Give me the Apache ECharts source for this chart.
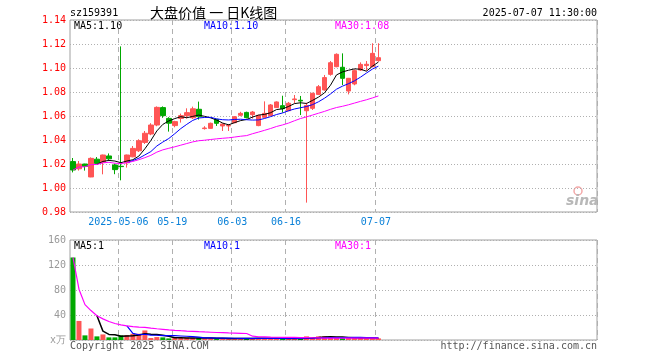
<!DOCTYPE html>
<html lang="zh-CN">
<head>
    <meta charset="UTF-8">
    <title>大盘价值 日K线图</title>
    <style>
        html, body { margin: 0; padding: 0; background: #fff; }
        #chart { width: 660px; height: 360px; }
    </style>
</head>
<body>
    <div id="chart"></div>
    <script src="https://cdn.jsdelivr.net/npm/echarts@6.0.0/dist/echarts.min.js"></script>
    <script>
        // 交易日
        const dates = [
            '04-21', '04-22', '04-23', '04-24', '04-25', '04-28', '04-29', '04-30',
            '05-06', '05-07', '05-08', '05-09', '05-12', '05-13', '05-14', '05-15', '05-16',
            '05-19', '05-20', '05-21', '05-22', '05-23', '05-26', '05-27', '05-28', '05-29', '05-30',
            '06-03', '06-04', '06-05', '06-06', '06-09', '06-10', '06-11', '06-12', '06-13',
            '06-16', '06-17', '06-18', '06-19', '06-20', '06-23', '06-24', '06-25', '06-26', '06-27',
            '06-30', '07-01', '07-02', '07-03', '07-04', '07-07'
        ];
        const openPrices = [
            1.022, 1.016, 1.020, 1.0092, 1.024, 1.0215, 1.0267, 1.0192,
            1.0181, 1.021, 1.026, 1.031, 1.038, 1.045, 1.0525, 1.067, 1.058,
            1.052, 1.058, 1.0603, 1.0585, 1.0656, 1.0495, 1.0497, 1.0572, 1.0517, 1.0517,
            1.0544, 1.0606, 1.063, 1.0611, 1.052, 1.0589, 1.0603, 1.067, 1.0686,
            1.0644, 1.0736, 1.0731, 1.0644, 1.0664, 1.078, 1.0817, 1.0947, 1.1011, 1.1006,
            1.0808, 1.0867, 1.0983, 1.102, 1.1011, 1.1061
        ];
        const closePrices = [
            1.015, 1.020, 1.018, 1.0247, 1.0205, 1.0275, 1.0243, 1.0153,
            1.0178, 1.0275, 1.033, 1.0394, 1.0456, 1.0525, 1.0672, 1.0603, 1.054,
            1.0553, 1.0603, 1.0628, 1.066, 1.0594, 1.0500, 1.0539, 1.0539, 1.0533, 1.0521,
            1.0594, 1.0622, 1.0586, 1.0633, 1.0605, 1.0622, 1.0692, 1.0717, 1.0661,
            1.0706, 1.0742, 1.0725, 1.0688, 1.0789, 1.0844, 1.092, 1.1044, 1.1114, 1.0914,
            1.0914, 1.0978, 1.103, 1.1031, 1.1122, 1.1086
        ];
        const lowPrices = [
            1.013, 1.0145, 1.0145, 1.009, 1.0197, 1.0114, 1.023, 1.0115,
            1.0064, 1.017, 1.0256, 1.030, 1.0367, 1.044, 1.0515, 1.0585, 1.047,
            1.0506, 1.0545, 1.058, 1.0575, 1.057, 1.0487, 1.0495, 1.0517, 1.0475, 1.0475,
            1.054, 1.0598, 1.058, 1.0578, 1.0515, 1.0583, 1.060, 1.0667, 1.0628,
            1.064, 1.0706, 1.0608, 0.9878, 1.065, 1.0775, 1.0811, 1.0936, 1.1006, 1.0858,
            1.078, 1.0856, 1.0975, 1.0978, 1.1006, 1.1053
        ];
        const highPrices = [
            1.025, 1.0225, 1.0202, 1.0255, 1.0258, 1.0278, 1.0288, 1.0203,
            1.118, 1.0278, 1.035, 1.0406, 1.0475, 1.054, 1.068, 1.068, 1.059,
            1.056, 1.062, 1.0664, 1.0678, 1.072, 1.0515, 1.0545, 1.0575, 1.0536, 1.0533,
            1.0600, 1.0635, 1.0636, 1.0642, 1.061, 1.0722, 1.070, 1.0722, 1.0769,
            1.0717, 1.0775, 1.0767, 1.0711, 1.0794, 1.0858, 1.0942, 1.1058, 1.1122, 1.1122,
            1.0917, 1.0989, 1.1047, 1.1058, 1.1206, 1.1206
        ];
        // 成交量(万)
        const volumes = [
            132, 30.5, 7.4, 18.4, 5.8, 8.9, 4.2, 4.2,
            7.4, 7.9, 10, 10, 15.3, 3.2, 4.7, 4.2, 2.6,
            3.2, 3.2, 3.7, 3.2, 3.2, 2.6, 2.6, 2.1, 2.6, 2.1,
            2.6, 2.6, 2.1, 2.6, 3.2, 2.6, 2.6, 2.6, 2.1,
            2.6, 2.1, 2.1, 5.8, 3.7, 5.8, 5.8, 4.7, 3.7, 3.2,
            3.2, 3.2, 3.2, 2.6, 3.2, 2.6
        ];
        const tickIndex = [8, 17, 27, 36, 51];
        const tickLabels = ['2025-05-06', '05-19', '06-03', '06-16', '07-07'];
        const priceTicks = [0.98, 1.14, 0.02];
        const volTicks = [0, 160, 40];

        const RED = '#ff5555';
        const GREEN = '#00a800';
        const MONO = 'DejaVu Sans Mono';
        const slots = 88;
        const cats = dates.concat(new Array(slots - dates.length).fill(''));

        function movingAvg(values, n, partial) {
            return values.map(function (v, i) {
                if (i < n - 1 && !partial) return '-';
                const s = Math.max(0, i - n + 1);
                let sum = 0;
                for (let k = s; k <= i; k++) sum += values[k];
                return sum / (i - s + 1);
            });
        }

        const kData = dates.map((d, i) => [openPrices[i], closePrices[i], lowPrices[i], highPrices[i]]);
        const volData = volumes.map((v, i) => ({
            value: v,
            itemStyle: { color: closePrices[i] >= openPrices[i] ? RED : GREEN }
        }));

        const showTick = (i) => tickIndex.indexOf(i) >= 0;

        function xAxisFor(gridIndex, withLabels) {
            return {
                type: 'category',
                gridIndex: gridIndex,
                data: cats,
                boundaryGap: true,
                axisLine: { show: false },
                axisTick: { show: false },
                axisLabel: {
                    show: withLabels,
                    interval: showTick,
                    formatter: (v, i) => tickLabels[tickIndex.indexOf(i)] || '',
                    color: '#0a80d8',
                    fontFamily: MONO,
                    fontSize: 10,
                    margin: 5,
                    padding: [0, 5, 0, 0]
                },
                splitLine: {
                    show: true,
                    interval: showTick,
                    lineStyle: { color: '#b0b0b0', type: [5, 4], width: 1 }
                }
            };
        }

        const line = (name, data, color, xi, width) => ({
            name: name,
            type: 'line',
            xAxisIndex: xi,
            yAxisIndex: xi,
            data: data,
            showSymbol: false,
            lineStyle: { color: color, width: width },
            silent: true
        });

        const text = (x, y, str, color, extra) => Object.assign({
            type: 'text',
            x: x,
            y: y,
            style: Object.assign({
                text: str,
                fill: color,
                font: '10px "DejaVu Sans Mono"',
                verticalAlign: 'middle'
            }, extra || {})
        });

        const chart = echarts.init(document.getElementById('chart'));
        chart.setOption({
            animation: false,
            grid: [
                { left: 70, top: 20, width: 527, height: 192, show: true, borderColor: '#a0a0a0', borderWidth: 1 },
                { left: 70, top: 240, width: 527, height: 100, show: true, borderColor: '#a0a0a0', borderWidth: 1 }
            ],
            xAxis: [xAxisFor(0, true), xAxisFor(1, false)],
            yAxis: [
                {
                    type: 'value',
                    gridIndex: 0,
                    min: priceTicks[0],
                    max: priceTicks[1],
                    interval: priceTicks[2],
                    axisLine: { show: false },
                    axisTick: { show: false },
                    axisLabel: {
                        color: '#ff0000',
                        fontFamily: MONO,
                        fontSize: 10,
                        margin: 4,
                        formatter: (v) => v.toFixed(2)
                    },
                    splitLine: { lineStyle: { color: '#b0b0b0', type: [1, 2] } }
                },
                {
                    type: 'value',
                    gridIndex: 1,
                    min: volTicks[0],
                    max: volTicks[1],
                    interval: volTicks[2],
                    axisLine: { show: false },
                    axisTick: { show: false },
                    axisLabel: {
                        color: '#999999',
                        fontFamily: MONO,
                        fontSize: 10,
                        margin: 4,
                        formatter: (v) => v === 0 ? 'x万' : String(v)
                    },
                    splitLine: { lineStyle: { color: '#b0b0b0', type: [1, 2] } }
                }
            ],
            series: [
                {
                    type: 'candlestick',
                    xAxisIndex: 0,
                    yAxisIndex: 0,
                    data: kData,
                    barWidth: 5,
                    itemStyle: {
                        color: RED,
                        color0: GREEN,
                        borderColor: RED,
                        borderColor0: GREEN,
                        borderWidth: 1
                    },
                    silent: true
                },
                line('MA5', movingAvg(closePrices, 5, false), '#000000', 0, 1),
                line('MA10', movingAvg(closePrices, 10, false), '#0000ff', 0, 1),
                line('MA30', movingAvg(closePrices, 30, true), '#ff00ff', 0, 1),
                {
                    type: 'bar',
                    xAxisIndex: 1,
                    yAxisIndex: 1,
                    data: volData,
                    barWidth: 5,
                    silent: true
                },
                line('VMA5', movingAvg(volumes, 5, false), '#000000', 1, 1.5),
                line('VMA10', movingAvg(volumes, 10, false), '#0000ff', 1, 1.2),
                line('VMA30', movingAvg(volumes, 30, true), '#ff00ff', 1, 1.2)
            ],
            graphic: [
                text(70, 13, 'sz159391', '#000'),
                text(150, 13, '大盘价值 一 日K线图', '#000', { font: '14px "Noto Sans CJK SC"' }),
                text(597, 13, '2025-07-07 11:30:00', '#000', { align: 'right' }),
                text(74, 26, 'MA5:1.10', '#000'),
                text(204, 26, 'MA10:1.10', '#0000ff'),
                text(335, 26, 'MA30:1.08', '#ff00ff'),
                text(74, 246, 'MA5:1', '#000'),
                text(204, 246, 'MA10:1', '#0000ff'),
                text(335, 246, 'MA30:1', '#ff00ff'),
                text(70, 346, 'Copyright 2025 SINA.COM', '#555'),
                text(597, 346, 'http://finance.sina.com.cn', '#555', { align: 'right' }),
                { type: 'circle', shape: { cx: 578, cy: 191, r: 4 }, style: { fill: 'none', stroke: '#f3a8a8', lineWidth: 1.5 } },
                text(566, 201, 'sina', '#b8b8b8', { font: 'italic bold 14px "DejaVu Sans"' })
            ]
        });
    </script>
</body>
</html>
